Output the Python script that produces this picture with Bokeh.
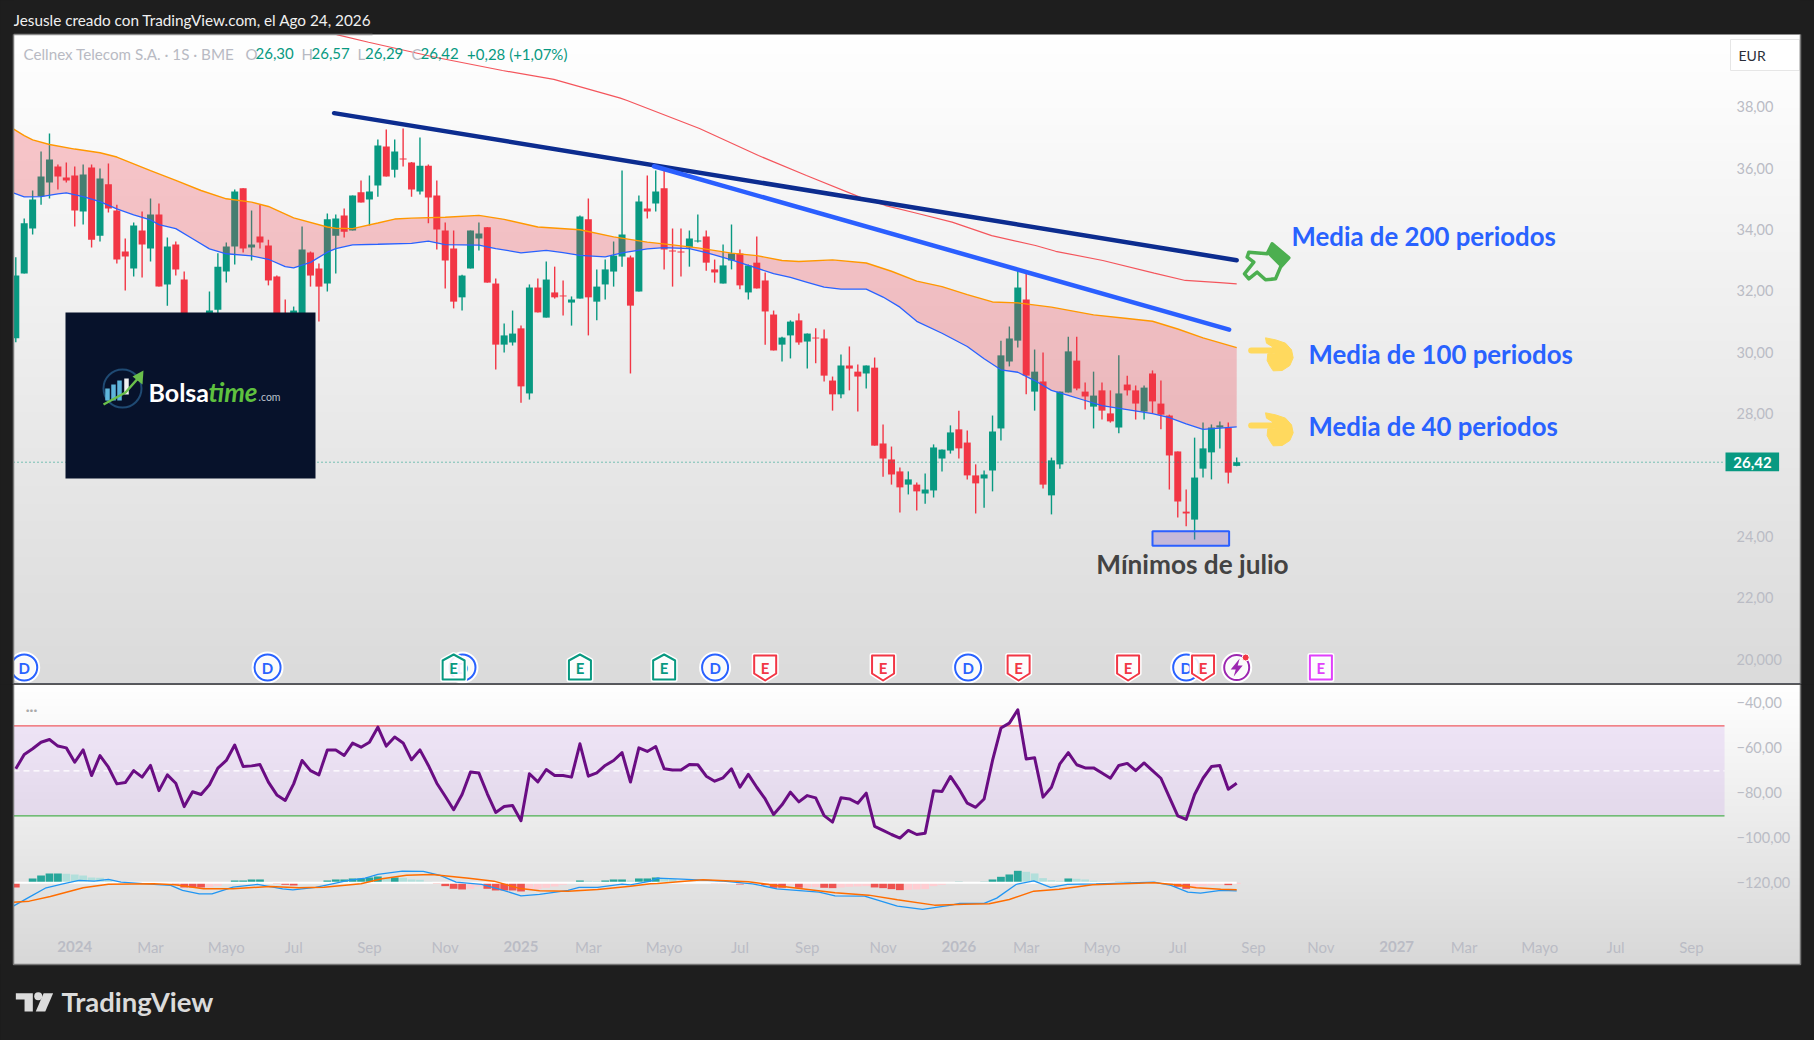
import numpy as np
from bokeh.plotting import figure
from bokeh.layouts import column
from bokeh.models import Range1d, LinearAxis, FixedTicker
from bokeh.core.properties import value
from bokeh.embed import file_html
from bokeh.resources import INLINE

# ---------- DATA ----------
open_ = [30.46,32.57,34.03,35.08,35.53,36.05,35.69,35.76,34.59,36.02,33.80,35.47,34.62,33.28,32.73,33.97,33.38,34.49,32.21,33.51,
32.37,30.70,30.10,30.50,31.39,32.63,33.45,35.34,33.41,33.77,33.48,32.47,30.90,30.40,30.60,33.25,32.73,32.24,33.80,34.46,
33.97,35.21,34.98,35.43,36.70,35.95,36.31,36.18,35.24,36.08,35.11,33.97,33.38,31.79,32.73,33.71,34.07,32.24,30.25,30.32,
30.78,28.66,32.11,31.13,31.95,31.85,31.62,31.75,34.33,31.65,32.21,32.63,33.12,33.09,31.98,34.68,34.85,35.34,33.32,33.28,
33.41,33.61,33.77,32.70,32.24,32.99,33.22,31.95,32.92,32.34,31.23,30.25,30.55,31.04,30.35,30.48,30.45,29.08,28.63,29.57,
29.37,29.31,29.50,27.03,26.51,26.12,25.69,25.69,25.40,25.50,26.54,26.80,27.49,27.06,25.99,25.89,26.15,27.52,29.70,30.38,
31.72,28.72,29.05,25.34,26.35,28.69,29.73,28.72,28.23,28.76,28.01,27.55,28.95,28.76,28.07,29.31,28.33,27.94,26.77,24.81,
24.55,26.21,26.74,27.55,27.55,26.30]
high = [33.10,34.36,35.27,36.54,37.13,36.12,36.18,36.05,36.12,36.12,35.99,36.15,34.81,33.71,34.23,34.59,35.01,34.85,33.74,33.61,
32.63,31.10,30.50,31.98,33.23,33.58,35.30,35.34,34.62,34.81,33.67,32.50,31.72,31.49,34.10,33.28,32.89,34.52,34.49,34.68,
35.11,35.60,35.76,36.93,37.26,36.93,37.29,36.20,37.00,36.12,35.60,34.23,33.97,32.53,33.97,34.23,34.07,32.40,30.94,31.36,
30.87,32.21,32.40,32.96,32.79,32.34,31.82,34.46,35.01,32.70,33.02,33.61,35.92,33.15,35.11,35.76,35.92,35.92,34.03,34.03,
33.97,34.49,33.97,33.02,33.51,34.16,33.35,32.86,33.77,32.60,31.36,30.51,31.04,31.26,30.61,30.78,30.74,29.21,29.93,30.19,
29.60,29.57,29.83,27.65,26.93,26.25,26.12,25.76,26.05,27.00,26.83,27.62,28.10,27.45,26.35,26.15,27.94,30.38,30.84,32.66,
32.66,30.09,29.99,26.57,28.72,30.51,30.51,29.02,29.37,29.02,28.76,29.90,29.24,28.92,28.92,29.41,29.08,27.97,26.77,25.53,
27.22,27.71,27.65,27.75,27.71,26.57]
low = [30.33,32.57,33.84,34.81,35.01,35.30,35.53,34.10,34.16,33.41,33.61,34.55,32.89,32.01,32.47,32.44,32.96,32.14,31.52,32.50,
30.60,29.80,29.50,30.30,31.14,32.27,32.86,33.25,32.99,33.38,32.18,30.80,30.30,30.20,30.40,32.14,31.00,31.98,32.57,33.74,
33.97,34.88,34.13,35.07,35.73,35.69,36.05,35.07,35.14,34.20,33.35,32.08,31.43,31.36,32.73,33.32,32.27,29.44,29.99,30.22,
28.36,28.46,31.30,31.13,31.75,31.20,30.87,31.75,30.55,31.04,31.72,32.14,32.79,29.31,31.98,34.36,34.59,32.70,32.14,32.47,
32.79,33.58,32.66,32.27,32.24,32.70,32.05,31.72,32.08,30.25,30.06,29.70,29.80,30.25,29.47,29.64,29.05,28.10,28.50,28.76,
28.07,28.82,26.96,25.95,25.69,24.78,25.37,24.85,25.07,25.27,26.12,26.70,26.54,25.86,24.75,24.94,25.47,27.13,29.54,30.16,
28.63,28.10,25.56,24.72,26.21,28.69,28.76,28.14,27.52,27.81,27.71,27.36,28.59,27.81,27.81,28.01,27.49,25.53,24.62,24.33,
23.90,25.92,25.86,26.87,25.73,26.29]
close = [32.50,34.20,34.98,35.73,36.28,35.73,35.60,34.62,35.79,33.67,35.66,34.68,33.02,33.12,34.13,33.51,34.49,32.14,33.45,32.70,
30.82,30.00,29.80,31.36,32.79,33.45,35.24,33.38,33.51,33.58,32.34,31.04,30.60,31.36,33.35,32.50,32.14,34.33,34.36,33.93,
35.11,34.88,35.24,36.74,35.73,36.54,36.28,35.30,36.08,35.04,34.00,32.99,31.65,32.50,33.97,33.87,32.27,30.25,30.55,30.61,
28.89,32.11,31.30,32.37,31.79,31.82,31.72,34.42,31.79,32.14,32.70,33.15,33.84,31.52,34.91,34.59,35.24,33.35,33.28,33.25,
33.71,33.64,32.92,32.60,32.83,33.22,32.18,32.83,32.08,31.33,30.06,30.48,31.00,30.32,30.61,30.45,29.24,28.63,29.57,29.47,
29.21,29.57,26.96,26.54,26.02,25.60,25.86,25.47,25.53,26.90,26.83,27.39,26.87,25.99,25.73,26.02,27.42,29.90,30.45,32.11,
29.24,29.37,25.69,26.48,28.72,30.03,28.82,28.56,28.59,28.10,27.75,28.66,28.76,28.33,28.85,28.40,27.97,26.64,25.14,24.75,
25.92,26.87,27.55,27.62,26.08,26.42]

ma40_w = [-0.3,1,3,5,6,8,10,12,14,16,17,19,21,23,25,28,30,32,33,35,37,38,40,43,47,49,51,55,57,60,63,65,67,70,72,75,77,80,82,85,88,90,92,94,96,98,101,103,105,107,110,113,115,117,119,121,123,125,127,129,132,135,137,139,141,143,145]
ma40 = [35.19,35.06,35.07,35.16,35.19,35.07,34.91,34.67,34.48,34.31,34.16,34.03,33.70,33.37,33.21,33.14,33.03,32.79,32.75,32.93,33.26,33.38,33.50,33.52,33.55,33.62,33.51,33.49,33.38,33.24,33.32,33.25,33.16,33.11,33.24,33.37,33.41,33.38,33.25,33.01,32.74,32.56,32.44,32.28,32.12,32.06,32.06,31.80,31.47,31.01,30.62,30.19,29.79,29.43,29.35,29.08,28.76,28.60,28.43,28.26,28.13,28.00,27.87,27.67,27.49,27.53,27.57]
ma100_w = [-0.3,1,2,4,7,10,12,16,19,22,25,28,30,33,37,38,40,43,45,47,51,55,58,62,67,71,75,78,81,85,88,91,93,97,101,104,107,110,113,116,119,123,128,132,135,138,141,145]
ma100 = [37.28,37.06,36.92,36.77,36.62,36.50,36.36,35.92,35.60,35.27,35.00,34.89,34.75,34.38,34.08,34.04,34.03,34.21,34.34,34.37,34.40,34.46,34.33,34.08,33.99,33.76,33.59,33.50,33.40,33.23,33.15,32.99,32.96,33.01,32.91,32.64,32.32,32.14,31.88,31.64,31.61,31.47,31.22,31.10,31.01,30.76,30.47,30.15]
ma200_w = [38.1,41.9,49.8,57.8,63.9,71.8,72.6,81.2,88.2,93.9,100.4,103.3,107,111.2,115.9,121.1,123.5,129.1,135.2,138.9,143,145]
ma200 = [40.35,40.10,39.61,39.18,38.89,38.28,38.20,37.29,36.41,35.76,35.04,34.78,34.53,34.24,33.80,33.48,33.29,32.99,32.58,32.34,32.27,32.23]

trend_dark_w = [37.8,145]
trend_dark = [37.79,33.0]
trend_blue_w = [75.8,144.1]
trend_blue = [36.06,30.74]
zone_w = [135,144.1]
zone_p = [23.70,24.17]
last_price = 26.42

osc = [-69.6,-63.2,-60.7,-57.8,-56.6,-59.5,-60.3,-66.7,-61.2,-72.6,-63.7,-68.9,-76.3,-75.7,-70.4,-73.3,-68.1,-79.3,-72.3,-76.0,
-86.4,-79.8,-81.0,-76.7,-69.3,-65.9,-59.0,-68.6,-68.3,-67.7,-75.5,-81.2,-83.7,-76.3,-65.9,-70.4,-72.3,-61.2,-61.2,-63.7,
-58.2,-60.0,-57.8,-51.1,-59.5,-55.5,-58.1,-65.6,-61.2,-68.1,-76.0,-81.8,-87.8,-81.0,-71.0,-71.5,-80.7,-89.0,-86.4,-85.9,
-92.7,-71.8,-75.4,-69.9,-72.6,-72.6,-73.3,-58.5,-72.9,-71.4,-68.1,-65.9,-62.4,-75.5,-60.3,-61.9,-59.7,-69.6,-70.1,-70.1,
-67.7,-67.8,-72.9,-75.1,-73.6,-69.6,-77.8,-72.1,-77.8,-83.0,-89.9,-85.6,-80.0,-84.3,-81.5,-82.5,-90.4,-93.3,-82.5,-83.0,
-84.9,-80.4,-95.2,-97.0,-98.8,-100.4,-97.0,-98.8,-98.2,-79.4,-79.7,-73.0,-78.5,-84.9,-86.7,-83.0,-65.9,-51.5,-49.3,-43.4,
-65.2,-64.7,-82.2,-77.8,-67.4,-62.4,-67.8,-69.2,-69.2,-71.5,-73.8,-68.1,-67.2,-70.4,-67.0,-70.4,-73.8,-82.2,-90.5,-92.1,
-81.0,-73.8,-68.6,-68.1,-78.7,-76.0]
osc_upper, osc_mid, osc_lower = -50.5, -70.5, -90.5

hist = [-.14,0,.13,.22,.28,.28,.27,.25,.22,.16,.15,.10,0,0,0,0,0,0,0,-.05,
-.14,-.14,-.14,-.13,-.09,-.03,.07,.07,.10,.10,.03,-.03,-.06,-.08,0,0,0,.07,.10,.10,
.13,.13,.16,.19,.15,.16,.15,.10,.09,.03,-.03,-.10,-.18,-.20,-.18,-.11,-.18,-.23,-.23,-.23,
-.26,-.20,-.19,-.15,-.11,-.06,0,.07,.06,.05,.07,.10,.10,.07,.13,.13,.16,.13,.11,.03,
.02,.01,0,-.02,-.02,0,-.05,0,-.03,-.07,-.15,-.15,-.08,-.15,-.14,-.13,-.15,-.16,-.14,-.12,
-.11,-.10,-.14,-.16,-.19,-.22,-.21,-.20,-.19,-.10,-.06,0,.03,.02,.02,.03,.10,.18,.25,.36,
.33,.28,.14,.08,.06,.13,.12,.10,.06,.04,.01,.03,.03,0,0,0,0,-.04,-.12,-.18,
-.14,-.10,-.08,-.06,-.07,-.04]
macd_w = [-0.3,1.6,3.6,5.6,7.5,9.3,11,12.5,16.4,18.4,19.8,21.8,23.3,25.8,28.7,31.7,32.9,35.6,37.6,39.5,41.5,43,45.9,48.4,50.4,52.3,55.3,57.3,60,62.2,65.6,66.9,69.1,72,73,75.4,76.2,79.1,84,87.5,90.4,95.4,97.3,100.8,104.7,107.7,111.1,112.1,115,116.5,118.8,120.9,122.9,124.9,128.3,135.2,137.2,139.2,140.7,143.1,145]
macd = [-.70,-.43,-.15,-.03,.07,.05,.10,.02,-.05,-.08,-.23,-.33,-.33,-.13,-.05,-.18,-.21,-.14,-.03,.07,.14,.25,.35,.34,.22,.02,-.05,-.18,-.39,-.35,-.23,-.14,-.14,-.04,-.06,.05,.14,.11,.05,-.03,-.18,-.28,-.39,-.40,-.70,-.80,-.67,-.62,-.62,-.46,-.05,.06,-.14,-.05,-.03,.02,-.08,-.28,-.31,-.23,-.24]
signal_w = [-0.3,1.6,4.1,8,11,16.4,18.9,22.3,25.8,30.2,33.6,36.6,41,43.5,46.4,49.4,53.8,56.8,59.7,62.2,65.6,69.1,73,75.4,76.2,81.6,87,90.9,97.3,101.3,104.7,109.1,112.6,115.6,118,120.9,123.9,127.9,135.2,137.7,140.2,143.1,145]
signal = [-.58,-.55,-.41,-.15,-.04,-.03,-.06,-.18,-.18,-.11,-.15,-.13,-.03,.12,.23,.25,.14,.05,-.16,-.24,-.25,-.20,-.10,-.03,-.02,.09,.03,-.10,-.30,-.37,-.51,-.67,-.64,-.63,-.50,-.25,-.19,-.06,0,-.06,-.15,-.19,-.21]

price_ticks = [20,22,24,26,28,30,32,34,36,38]
price_labels = ["20,000","22,00","24,00","","28,00","30,00","32,00","34,00","36,00","38,00"]
osc_ticks = [-40,-60,-80,-100,-120]
osc_labels = ["−40,00","−60,00","−80,00","−100,00","−120,00"]
month_ticks = [16,25,33,42,51,68,77,86,94,103,120,129,138,147,155,172,181,190,199]
month_labels = ["Mar","Mayo","Jul","Sep","Nov","Mar","Mayo","Jul","Sep","Nov","Mar","Mayo","Jul","Sep","Nov","Mar","Mayo","Jul","Sep"]
year_ticks = [7,60,112,164]
year_labels = ["2024","2025","2026","2027"]

dividends_w = [1,29.9,53.05,83.05,113.1,139]
earn_past_good_w = [52,67,77]
earn_past_bad_w = [89,103,119.1,132.1,141]
earn_next_w = [155]
split_w = [145]

# ---------- canvas mapping ----------
DARK = "#1e1e1e"
GREEN, RED = "#089981", "#f23645"
BLUE = "#2962ff"
FONT = "Lato"
W, H1, H2 = 1814, 684, 356
L, R, T, B = 13, 1800, 34, 964

def X(px): return (px - 15.3) / 8.42
def Y(py): return 24 + (536 - py) / 30.7
def V(py): return -40 - (py - 701.7) / 2.25
def M(py): return (882.3 - py) / 33.33

x_range = Range1d(X(0), X(W))
common = dict(width=W, x_range=x_range, output_backend="svg", toolbar_location=None,
              x_axis_location=None, y_axis_location=None, min_border=0,
              background_fill_color=DARK, border_fill_color=DARK, outline_line_color=None)

p1 = figure(height=H1, y_range=Range1d(Y(H1), Y(0)), **common)
p2 = figure(height=H2, y_range=Range1d(V(H1 + H2), V(H1)), **common)
p2.extra_y_ranges = {"macd": Range1d(M(H1 + H2), M(H1))}
for p in (p1, p2):
    p.grid.visible = False

def grad(top, bottom, n=256):
    g = np.linspace(bottom, top, n).astype(np.uint32)
    return (255 << 24 | g << 16 | g << 8 | g).reshape(n, 1)

p1.image_rgba(image=[grad(255, 219)], x=X(L), y=Y(H1), dw=X(R) - X(L), dh=Y(T) - Y(H1))
p2.image_rgba(image=[grad(255, 216)], x=X(L), y=V(B), dw=X(R) - X(L), dh=V(H1) - V(B))

def txt(p, ymap, px, py, s, size, color, style="normal", align="left", font=FONT, **kw):
    p.text([X(px)], [ymap(py)], text=[s], text_font=value(font), text_font_size=f"{size}px",
           text_color=color, text_font_style=style, text_align=align, text_baseline="middle", **kw)

# ---------- price pane ----------
weeks = np.arange(len(open_))
o, h, l, c = map(np.array, (open_, high, low, close))
cols = [GREEN if ci >= oi else RED for oi, ci in zip(o, c)]
p1.segment(weeks, h, weeks, l, color=cols, line_width=1.4)
p1.vbar(weeks, width=0.83, top=np.maximum(o, c), bottom=np.minimum(o, c), fill_color=cols, line_color=None)

p1.patch(ma100_w + ma40_w[::-1], ma100 + ma40[::-1], fill_color=RED, fill_alpha=0.27, line_color=None)
p1.line(ma200_w, ma200, line_color="#f4555c", line_width=1.2)
p1.line(ma100_w, ma100, line_color="#ff9800", line_width=1.4)
p1.line(ma40_w, ma40, line_color="#2962ff", line_width=1.3)
p1.line(trend_dark_w, trend_dark, line_color="#0c2c8f", line_width=4.5, line_cap="round")
p1.line(trend_blue_w, trend_blue, line_color="#2b5fff", line_width=4.5, line_cap="round")
p1.quad(left=zone_w[0], right=zone_w[1], bottom=zone_p[0], top=zone_p[1],
        fill_color="#7e57c2", fill_alpha=0.3, line_color="#2b5fff", line_width=2)
p1.line([X(L), X(1725)], [last_price, last_price], line_color=GREEN, line_width=1, line_dash="1 3")

# events row
ev_y = Y(667)
p1.scatter(dividends_w, [ev_y] * len(dividends_w), marker="circle", size=27, fill_color="#ffffff",
           fill_alpha=0.85, line_color="#ffffff", line_width=5)
p1.scatter(dividends_w, [ev_y] * len(dividends_w), marker="circle", size=26, fill_color=None,
           line_color=BLUE, line_width=2)
p1.text(dividends_w, [ev_y] * len(dividends_w), text=["D"] * len(dividends_w), text_font=value(FONT),
        text_font_size="15px", text_color=BLUE, text_align="center", text_baseline="middle", text_font_style="bold")

def badge(xs, shape, color, p=p1):
    for w in xs:
        cx, cy = 15.3 + 8.42 * w, 667
        if shape == "up":
            pts = [(-11, -7), (0, -13), (11, -7), (11, 12), (-11, 12)]
        elif shape == "down":
            pts = [(-11, -12), (11, -12), (11, 6), (0, 13), (-11, 6)]
        else:
            pts = [(-11, -12), (11, -12), (11, 12), (-11, 12)]
        xx = [X(cx + a) for a, b in pts]
        yy = [Y(cy + b) for a, b in pts]
        p.patch(xx, yy, fill_color="#ffffff", fill_alpha=0.9, line_color="#ffffff", line_width=5, line_join="round")
        p.patch(xx, yy, fill_color=None, line_color=color, line_width=2, line_join="round")
        txt(p, Y, cx, cy, "E", 15, color, "bold", "center")

badge(earn_past_good_w, "up", GREEN)
badge(earn_past_bad_w, "down", RED)
badge(earn_next_w, "sq", "#e040fb")

for w in split_w:
    cx, cy = 15.3 + 8.42 * w, 667
    p1.scatter([w], [ev_y], marker="circle", size=26, fill_color="#ffffff", fill_alpha=0.85,
               line_color="#ffffff", line_width=5)
    p1.scatter([w], [ev_y], marker="circle", size=25, fill_color=None, line_color="#9c27b0", line_width=2)
    bolt = [(3, -9), (-6, 2), (-1, 2), (-3, 9), (6, -2), (1, -2)]
    p1.patch([X(cx + a) for a, b in bolt], [Y(cy + b) for a, b in bolt], fill_color="#9c27b0", line_color=None)
    p1.scatter([X(cx + 9)], [Y(cy - 10)], marker="circle", size=7, fill_color=RED, line_color="#ffffff", line_width=1)

# logo box
p1.quad(left=X(65), right=X(315), top=Y(312), bottom=Y(478), fill_color="#07122b", line_color=None)
p1.scatter([X(122)], [Y(388)], marker="circle", size=38, fill_color=None, line_color="#1f4a73", line_width=2)
p1.vbar([X(107), X(113), X(119)], width=4.5 / 8.42, top=[Y(388), Y(384), Y(380)], bottom=Y(400), fill_color="#5fb6dc", line_color=None)
p1.vbar([X(126)], width=4.5 / 8.42, top=[Y(378)], bottom=Y(394), fill_color="#f2f2f2", line_color=None)
p1.line([X(103), X(125), X(140)], [Y(404), Y(392), Y(375)], line_color="#6abf4b", line_width=2.5)
p1.patch([X(132), X(143), X(142)], [Y(376), Y(370), Y(384)], fill_color="#6abf4b", line_color=None)
txt(p1, Y, 148, 391, "Bolsa", 25, "#ffffff", "bold")
txt(p1, Y, 208, 391, "time", 26, "#5fc13f", "bold italic")
txt(p1, Y, 258, 396, ".com", 10.5, "#b9c0cc")

# annotations
txt(p1, Y, 1291, 235, "Media de 200 periodos", 25.8, BLUE, "bold")
txt(p1, Y, 1308, 353, "Media de 100 periodos", 25.8, BLUE, "bold")
txt(p1, Y, 1308, 425, "Media de 40 periodos", 25.8, BLUE, "bold")
txt(p1, Y, 1192, 563, "Mínimos de julio", 26.2, "#434343", "bold", "center")

# hands: outlines traced in the reference crop, one crop px = 1/3 canvas px
def hx(a): return X(1230 + a / 3)
def hy(b, dy=0): return Y(220 + b / 3 + dy)
finger_x, finger_y = [62, 125], [390, 390]
palm = [(105, 352), (135, 358), (165, 368), (183, 388), (188, 412), (178, 435), (155, 450), (128, 451),
        (118, 436), (110, 420), (112, 400), (132, 398), (125, 378), (108, 368)]
for dy in (0, 75):
    p1.line([hx(a) for a in finger_x], [hy(b, dy) for b in finger_y], line_color="#ffd95e", line_width=6, line_cap="round")
    p1.patch([hx(a) for a, b in palm], [hy(b, dy) for a, b in palm], fill_color="#ffd95e", line_color="#ffd95e", line_width=1, line_join="round")
gh = [(55, 95), (110, 100), (125, 70), (175, 112), (150, 140), (135, 175), (105, 178), (80, 155), (55, 175), (42, 160), (70, 125), (50, 110)]
p1.patch([hx(a) for a, b in gh], [hy(b) for a, b in gh], fill_color=None, line_color="#4caf50", line_width=3.5, line_join="round")
cuff = [(125, 70), (175, 112), (150, 140), (112, 102)]
p1.patch([hx(a) for a, b in cuff], [hy(b) for a, b in cuff], fill_color="#4caf50", line_color=None)

# legend row
p1.quad(left=X(1730), right=X(1799), top=Y(39), bottom=Y(70), fill_color="#ffffff", line_color="#e6e6e6")
txt(p1, Y, 1738, 54.5, "EUR", 14, "#2a2e39")
GREY = "#b8bac3"
txt(p1, Y, 23, 53, "Cellnex Telecom S.A. · 1S · BME", 15.2, GREY)
for px, s, col in [(245, "O", GREY), (255, "26,30", GREEN), (301, "H", GREY), (311, "26,57", GREEN),
                   (357, "L", GREY), (364.6, "26,29", GREEN), (411, "C", GREY), (420, "26,42", GREEN),
                   (466.6, "+0,28 (+1,07%)", GREEN)]:
    txt(p1, Y, px, 53, s, 15, col)

# last price tag
p1.quad(left=X(1725), right=X(1778.6), top=Y(452), bottom=Y(470.7), fill_color=GREEN, line_color=None)
txt(p1, Y, 1752, 461.5, "26,42", 15, "#ffffff", "bold", "center")

# header bar
txt(p1, Y, 13, 19.5, "Jesusle creado con TradingView.com, el Ago 24, 2026", 15.3, "#f0f0f0")
p1.line([X(L), X(372)], [Y(34), Y(34)], line_color="#8a8a8a", line_width=1.5)

# price axis
pa = LinearAxis(ticker=FixedTicker(ticks=price_ticks),
                major_label_overrides=dict(zip(price_ticks, price_labels)),
                fixed_location=X(1730), axis_line_color=None, major_tick_line_color=None,
                minor_tick_line_color=None, major_label_standoff=0,
                major_label_text_color="#babcc5", major_label_text_font=FONT, major_label_text_font_size="14.5px")
p1.add_layout(pa, "right")

# side masks
for x0, x1 in ((0, L), (R, W)):
    p1.quad(left=X(x0), right=X(x1), top=Y(0), bottom=Y(H1), fill_color=DARK, line_color=None)
p1.line([X(L), X(L)], [Y(34), Y(H1)], line_color="#777777", line_width=1.5)
p1.line([X(R), X(R)], [Y(34), Y(H1)], line_color="#777777", line_width=1.5)
p1.line([X(L), X(R)], [Y(H1 - 0.5), Y(H1 - 0.5)], line_color="#2a2e39", line_width=1.5)

# ---------- oscillator pane ----------
right_end = X(1724)
p2.quad(left=X(L), right=right_end, top=osc_upper, bottom=osc_lower, fill_color="#9c3ce0", fill_alpha=0.11, line_color=None)
p2.line([X(L), right_end], [osc_upper] * 2, line_color="#ef5c60", line_width=1.4)
p2.line([X(L), right_end], [osc_lower] * 2, line_color="#4caf50", line_width=1.4)
p2.line([X(L), right_end], [osc_mid] * 2, line_color="#ffffff", line_width=1.2, line_dash="6 4")
p2.line(weeks, osc, line_color="#6a0d83", line_width=3, line_join="round")
txt(p2, V, 31, 709, "···", 14, "#aaaaaa", "bold", "center")

hcols = []
for i, v in enumerate(hist):
    strong = i == 0 or abs(v) >= abs(hist[i - 1])
    if v >= 0:
        hcols.append("#26a69a" if strong else "#b2dfdb")
    else:
        hcols.append("#ef5350" if strong else "#ffcdd2")
p2.vbar(weeks, width=0.92, top=hist, bottom=0, fill_color=hcols, line_color=None, y_range_name="macd")
p2.line([-0.3, 145], [0, 0], line_color="#ffffff", line_width=2, y_range_name="macd")
p2.line(macd_w, macd, line_color="#2196f3", line_width=1.3, y_range_name="macd")
p2.line(signal_w, signal, line_color="#ff6d00", line_width=1.5, y_range_name="macd")

oa = LinearAxis(ticker=FixedTicker(ticks=osc_ticks), major_label_overrides=dict(zip(osc_ticks, osc_labels)),
                fixed_location=X(1730), axis_line_color=None, major_tick_line_color=None,
                minor_tick_line_color=None, major_label_standoff=0,
                major_label_text_color="#babcc5", major_label_text_font=FONT, major_label_text_font_size="14.5px")
p2.add_layout(oa, "right")

ma = LinearAxis(ticker=FixedTicker(ticks=month_ticks), major_label_overrides=dict(zip(month_ticks, month_labels)),
                fixed_location=V(931), axis_line_color=None, major_tick_line_color=None,
                minor_tick_line_color=None, major_label_standoff=0,
                major_label_text_color="#babcc5", major_label_text_font=FONT, major_label_text_font_size="15px")
ya = LinearAxis(ticker=FixedTicker(ticks=year_ticks), major_label_overrides=dict(zip(year_ticks, year_labels)),
                fixed_location=V(934), axis_line_color=None, major_tick_line_color=None,
                minor_tick_line_color=None, major_label_standoff=0,
                major_label_text_color="#babcc5", major_label_text_font=FONT, major_label_text_font_size="15px",
                major_label_text_font_style="bold")
p2.add_layout(ma, "below")
p2.add_layout(ya, "below")

# footer + frame
p2.quad(left=X(0), right=X(W), top=V(B), bottom=V(H1 + H2), fill_color=DARK, line_color=None)
for x0, x1 in ((0, L), (R, W)):
    p2.quad(left=X(x0), right=X(x1), top=V(H1), bottom=V(H1 + H2), fill_color=DARK, line_color=None)
p2.line([X(L), X(L), X(R), X(R)], [V(H1), V(B), V(B), V(H1)], line_color="#777777", line_width=1.5)

def fx(z): return X(z * 650 / 1568)
def fy(z): return V(640 + z / 3)
tv_t = [(37, 1058), (78, 1058), (78, 1113), (58, 1113), (58, 1077), (37, 1077)]
tv_s = [(104, 1058), (127, 1058), (108, 1113), (85, 1113)]
for shape in (tv_t, tv_s):
    p2.patch([fx(a) for a, b in shape], [fy(b) for a, b in shape], fill_color="#dbdbdb", line_color=None)
p2.scatter([fx(91)], [fy(1067)], marker="circle", size=8, fill_color="#dbdbdb", line_color=None)
txt(p2, V, 61, 1001, "TradingView", 27.5, "#dbdbdb", "bold")

TEMPLATE = """{% block postamble %}<style>html,body{margin:0;padding:0;background:#1e1e1e;overflow:hidden}</style>{% endblock %}
"""
layout = column(p1, p2, spacing=0)
open("out.html", "w").write(file_html(layout, INLINE, template=TEMPLATE))
